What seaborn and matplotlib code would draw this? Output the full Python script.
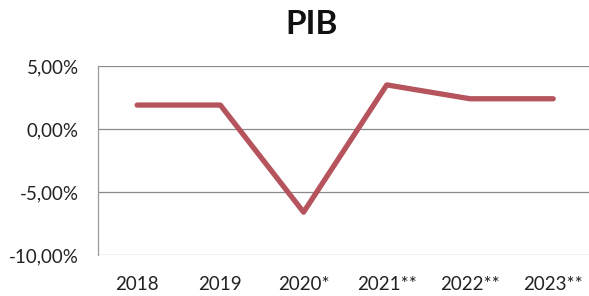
import matplotlib
matplotlib.use('Agg')
import matplotlib.pyplot as plt
import seaborn as sns
import pandas as pd
from matplotlib.ticker import FuncFormatter

# PIB growth by year
years = ['2018', '2019', '2020*', '2021**', '2022**', '2023**']
pib = [1.9, 1.9, -6.6, 3.5, 2.4, 2.4]

df = pd.DataFrame({'Ano': years, 'PIB': pib})

sns.set_theme(style='white')
plt.rcParams['font.family'] = ['Lato', 'DejaVu Sans']

fig = plt.figure(figsize=(5.89, 2.96), dpi=100)
ax = fig.add_axes([98 / 589, 41 / 296, 491 / 589, 189 / 296])

sns.lineplot(data=df, x='Ano', y='PIB', ax=ax, color='#b5545c', linewidth=3.8,
             solid_capstyle='round', solid_joinstyle='round', sort=False)

ax.set_ylim(-10, 5)
ax.set_yticks([-10, -5, 0, 5])
ax.yaxis.set_major_formatter(FuncFormatter(lambda v, p: f'{v:.2f}%'.replace('.', ',')))
ax.set_xlim(-0.47, 5.43)
ax.grid(axis='y', color='#8a8a8a', linewidth=0.9)
ax.set_axisbelow(True)
for s in ['top', 'right', 'bottom']:
    ax.spines[s].set_visible(False)
ax.spines['left'].set_color('#9a9a9a')
ax.spines['left'].set_linewidth(0.9)
ax.tick_params(axis='both', length=0, labelsize=13.5, colors='#222222')
ax.tick_params(axis='y', pad=14)
ax.tick_params(axis='x', pad=15)
ax.set_xlabel('')
ax.set_ylabel('')

fig.text(312 / 589, 1 - 25 / 296, 'PIB', ha='center', va='center', fontsize=24,
         fontweight='bold', color='#111111')

fig.savefig('out.png', dpi=100)
